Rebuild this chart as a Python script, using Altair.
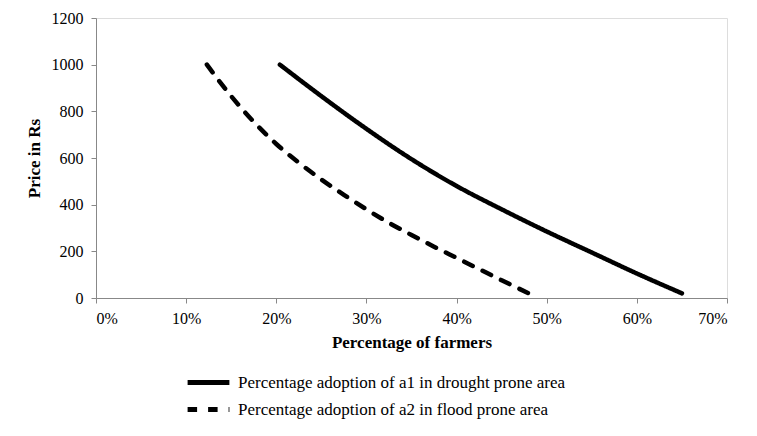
import altair as alt
import pandas as pd

series_a1 = "Percentage adoption of a1 in drought prone area"
series_a2 = "Percentage adoption of a2 in flood prone area"

a1_pct = [20.4, 25, 30, 35, 40, 45, 50, 55, 60, 65]
a1_price = [1000, 865, 725, 595, 480, 380, 285, 195, 105, 20]

a2_pct = [12.3, 15, 17.5, 20, 22.5, 25, 27.5, 30, 32.5, 35, 37.5, 40, 42.5, 45, 48]
a2_price = [1000, 865, 755, 660, 580, 508, 442, 380, 322, 270, 220, 172, 124, 76, 20]

x_ticks = [0, 0.1, 0.2, 0.3, 0.4, 0.5, 0.6, 0.7]
y_ticks = [0, 200, 400, 600, 800, 1000, 1200]

rows = []
for i, (p, v) in enumerate(zip(a1_pct, a1_price)):
    rows.append({"series": series_a1, "x": p / 100, "y": v, "order": i})
for i, (p, v) in enumerate(zip(a2_pct, a2_price)):
    rows.append({"series": series_a2, "x": p / 100, "y": v, "order": i})
df = pd.DataFrame(rows)

FONT = "Liberation Serif"

chart = alt.Chart(df).mark_line(
    strokeWidth=4.5, strokeCap="round", strokeJoin="round", color="black", interpolate="monotone"
).encode(
    x=alt.X("x:Q", scale=alt.Scale(domain=[0, 0.7], nice=False),
            axis=alt.Axis(values=x_ticks, format=".0%", title="Percentage of farmers",
                          grid=False, domainColor="#888888", tickColor="#888888", tickSize=5,
                          labelFont=FONT, labelFontSize=16, labelColor="black", labelPadding=7,
                          titleFont=FONT, titleFontSize=17, titleFontWeight="bold", titleColor="black",
                          titleY=44, titleBaseline="middle")),
    y=alt.Y("y:Q", scale=alt.Scale(domain=[0, 1200], nice=False),
            axis=alt.Axis(values=y_ticks, format="d", title="Price in Rs",
                          grid=False, domainColor="#888888", tickColor="#888888", tickSize=5,
                          labelFont=FONT, labelFontSize=16, labelColor="black", labelPadding=8,
                          titleFont=FONT, titleFontSize=17, titleFontWeight="bold", titleColor="black",
                          titleX=-62, titleY=140, titleAlign="center", titleBaseline="middle")),
    strokeDash=alt.StrokeDash("series:N",
                              scale=alt.Scale(domain=[series_a1, series_a2], range=[[1, 0], [9.5, 11]]),
                              legend=alt.Legend(title=None, orient="none", legendX=99, legendY=351,
                                                symbolType="M-1.9,0H1.9", symbolSize=484, symbolStrokeWidth=5,
                                                symbolStrokeColor="black", labelFont=FONT, labelFontSize=17,
                                                labelColor="black", rowPadding=3, labelOffset=16,
                                                labelLimit=600, padding=0)),
    order="order:Q",
).properties(
    width=631, height=280,
    autosize=alt.AutoSizeParams(type="none"),
    padding={"left": 88, "top": 10, "right": 22, "bottom": 138},
).configure_view(stroke=None).configure(background="white")

chart.save("out.html", embed_options={"renderer": "svg", "actions": False})
